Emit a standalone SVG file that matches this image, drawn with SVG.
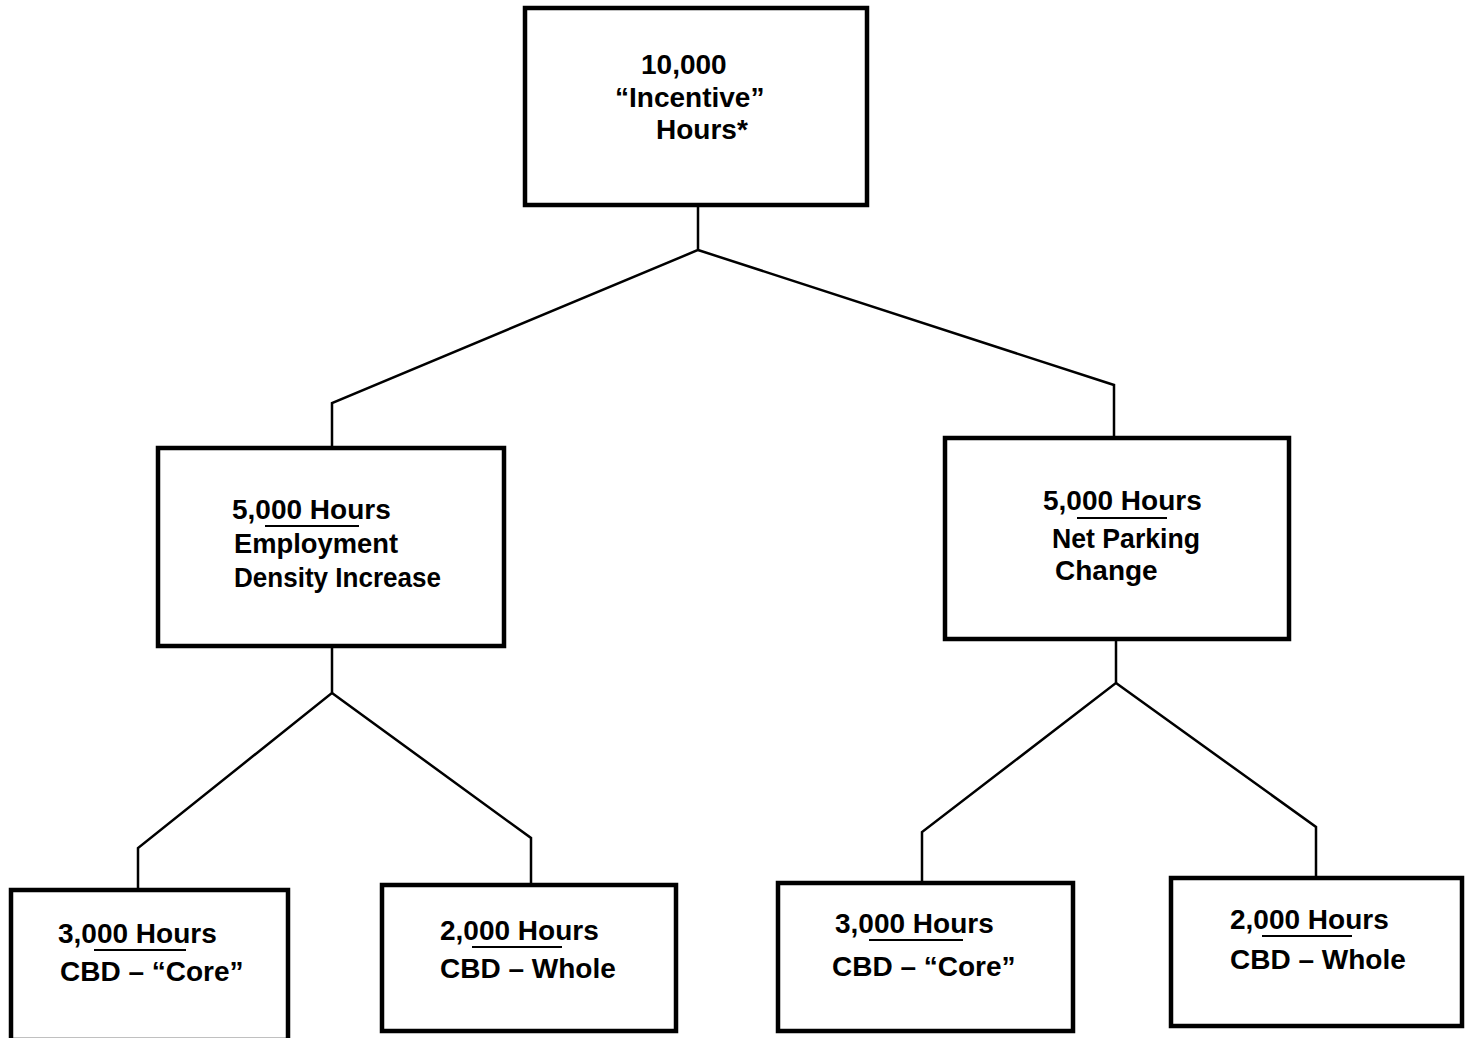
<svg xmlns="http://www.w3.org/2000/svg" width="1470" height="1038" viewBox="0 0 1470 1038">
<style>
.box{fill:#fff;stroke:#000;stroke-width:4.5}
.t{font-family:"Liberation Sans",Arial,sans-serif;font-weight:bold;font-size:28px;fill:#000}
.u{stroke:#000;stroke-width:2}
.c{fill:none;stroke:#000;stroke-width:2.5}
</style>
<rect width="1470" height="1038" fill="#fff"/>
<g id="connectors">
<polyline class="c" points="698,206 698,250 332,403 332,447"/>
<polyline class="c" points="698,250 1114,385 1114,437"/>
<polyline class="c" points="332,647 332,693 138,848 138,889"/>
<polyline class="c" points="332,693 531,838 531,884"/>
<polyline class="c" points="1116,640 1116,683 922,832 922,882"/>
<polyline class="c" points="1116,683 1316,827 1316,877"/>
</g>
<g id="n-top">
<rect class="box" x="525" y="8" width="342" height="197"/>
<text class="t" x="641" y="74">10,000</text>
<text class="t" x="615" y="107">“Incentive”</text>
<text class="t" x="656" y="139">Hours*</text>
</g>
<g id="n-employment">
<rect class="box" x="158" y="448" width="346" height="198"/>
<text class="t" x="232" y="519">5,000 Hours</text>
<line class="u" x1="265" y1="526" x2="359" y2="526"/>
<text class="t" x="234" y="553" textLength="164" lengthAdjust="spacingAndGlyphs">Employment</text>
<text class="t" x="234" y="587" textLength="207" lengthAdjust="spacingAndGlyphs">Density Increase</text>
</g>
<g id="n-parking">
<rect class="box" x="945" y="438" width="344" height="201"/>
<text class="t" x="1043" y="510">5,000 Hours</text>
<line class="u" x1="1077" y1="518" x2="1167" y2="518"/>
<text class="t" x="1052" y="548" textLength="148" lengthAdjust="spacingAndGlyphs">Net Parking</text>
<text class="t" x="1055" y="580">Change</text>
</g>
<g id="n-emp-core">
<rect class="box" x="11" y="890" width="277" height="150"/>
<text class="t" x="58" y="943">3,000 Hours</text>
<line class="u" x1="94" y1="950" x2="186" y2="950"/>
<text class="t" x="60" y="981">CBD – “Core”</text>
</g>
<g id="n-emp-whole">
<rect class="box" x="382" y="885" width="294" height="146"/>
<text class="t" x="440" y="940">2,000 Hours</text>
<line class="u" x1="472" y1="947" x2="562" y2="947"/>
<text class="t" x="440" y="978">CBD – Whole</text>
</g>
<g id="n-park-core">
<rect class="box" x="778" y="883" width="295" height="148"/>
<text class="t" x="835" y="933">3,000 Hours</text>
<line class="u" x1="869" y1="940" x2="963" y2="940"/>
<text class="t" x="832" y="976">CBD – “Core”</text>
</g>
<g id="n-park-whole">
<rect class="box" x="1171" y="878" width="291" height="148"/>
<text class="t" x="1230" y="929">2,000 Hours</text>
<line class="u" x1="1262" y1="936" x2="1352" y2="936"/>
<text class="t" x="1230" y="969">CBD – Whole</text>
</g>
</svg>
